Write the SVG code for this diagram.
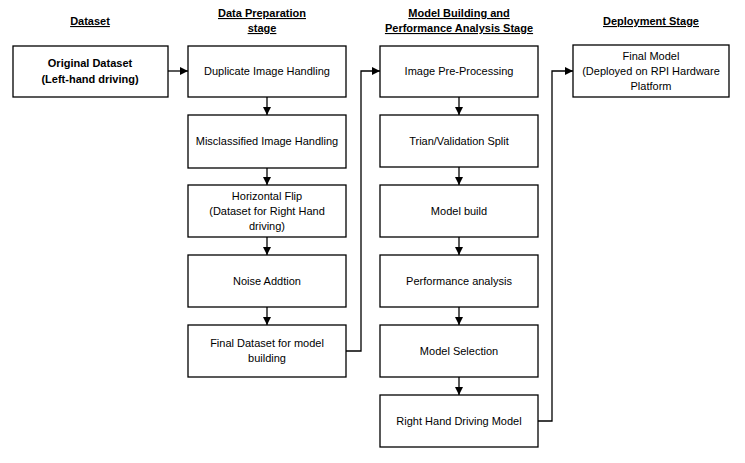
<svg xmlns="http://www.w3.org/2000/svg" width="745" height="463" viewBox="0 0 745 463">
<style>
.box{fill:#fff;stroke:#000;stroke-width:1.3}
.t{font-family:"Liberation Sans",Arial,sans-serif;font-size:11px;fill:#000;text-anchor:middle}
.b{font-weight:bold}
.h{font-family:"Liberation Sans",Arial,sans-serif;font-size:11px;font-weight:bold;fill:#000;text-anchor:middle;text-decoration:underline}
.c{fill:none;stroke:#000;stroke-width:1.3}
</style>
<defs>
<marker id="ah" viewBox="0 0 10 10" refX="10" refY="5" markerWidth="8" markerHeight="8" markerUnits="userSpaceOnUse" orient="auto">
<path d="M0,0 L10,5 L0,10 z" fill="#000"/>
</marker>
</defs>
<g id="headers">
<text class="h" x="90" y="25">Dataset</text>
<text class="h" x="262" y="17">Data Preparation</text>
<text class="h" x="262" y="32">stage</text>
<text class="h" x="459" y="17">Model Building and</text>
<text class="h" x="459" y="32">Performance Analysis Stage</text>
<text class="h" x="651" y="25">Deployment Stage</text>
</g>
<g id="connectors">
<path class="c" d="M168,71 H188" marker-end="url(#ah)"/>
<path class="c" d="M267,97 V115" marker-end="url(#ah)"/>
<path class="c" d="M267,168 V185" marker-end="url(#ah)"/>
<path class="c" d="M267,237 V255" marker-end="url(#ah)"/>
<path class="c" d="M267,307 V325" marker-end="url(#ah)"/>
<path class="c" d="M346,351 H361 V71 H380" marker-end="url(#ah)"/>
<path class="c" d="M459,97 V115" marker-end="url(#ah)"/>
<path class="c" d="M459,167 V185" marker-end="url(#ah)"/>
<path class="c" d="M459,237 V255" marker-end="url(#ah)"/>
<path class="c" d="M459,307 V325" marker-end="url(#ah)"/>
<path class="c" d="M459,377 V395" marker-end="url(#ah)"/>
<path class="c" d="M538,421 H552 V71 H573" marker-end="url(#ah)"/>
</g>
<g id="n_original">
<rect class="box" x="13" y="46" width="155" height="51"/>
<text class="t b" x="90" y="67">Original Dataset</text>
<text class="t b" x="90" y="83">(Left-hand driving)</text>
</g>
<g id="n_duplicate">
<rect class="box" x="188" y="46" width="158" height="51"/>
<text class="t" x="267" y="75">Duplicate Image Handling</text>
</g>
<g id="n_misclassified">
<rect class="box" x="188" y="115" width="158" height="53"/>
<text class="t" x="267" y="145">Misclassified Image Handling</text>
</g>
<g id="n_flip">
<rect class="box" x="188" y="185" width="158" height="52"/>
<text class="t" x="267" y="200">Horizontal Flip</text>
<text class="t" x="267" y="215">(Dataset for Right Hand</text>
<text class="t" x="267" y="230">driving)</text>
</g>
<g id="n_noise">
<rect class="box" x="188" y="255" width="158" height="52"/>
<text class="t" x="267" y="285">Noise Addtion</text>
</g>
<g id="n_final_dataset">
<rect class="box" x="188" y="325" width="158" height="52"/>
<text class="t" x="267" y="347">Final Dataset for model</text>
<text class="t" x="267" y="362">building</text>
</g>
<g id="n_preprocessing">
<rect class="box" x="380" y="46" width="158" height="51"/>
<text class="t" x="459" y="75">Image Pre-Processing</text>
</g>
<g id="n_split">
<rect class="box" x="380" y="115" width="158" height="52"/>
<text class="t" x="459" y="145">Trian/Validation Split</text>
</g>
<g id="n_build">
<rect class="box" x="380" y="185" width="158" height="52"/>
<text class="t" x="459" y="215">Model build</text>
</g>
<g id="n_performance">
<rect class="box" x="380" y="255" width="158" height="52"/>
<text class="t" x="459" y="285">Performance analysis</text>
</g>
<g id="n_selection">
<rect class="box" x="380" y="325" width="158" height="52"/>
<text class="t" x="459" y="355">Model Selection</text>
</g>
<g id="n_rhd">
<rect class="box" x="380" y="395" width="158" height="52"/>
<text class="t" x="459" y="425">Right Hand Driving Model</text>
</g>
<g id="n_final_model">
<rect class="box" x="573" y="45" width="156" height="52"/>
<text class="t" x="651" y="60">Final Model</text>
<text class="t" x="651" y="75">(Deployed on RPI Hardware</text>
<text class="t" x="651" y="90">Platform</text>
</g>
</svg>
